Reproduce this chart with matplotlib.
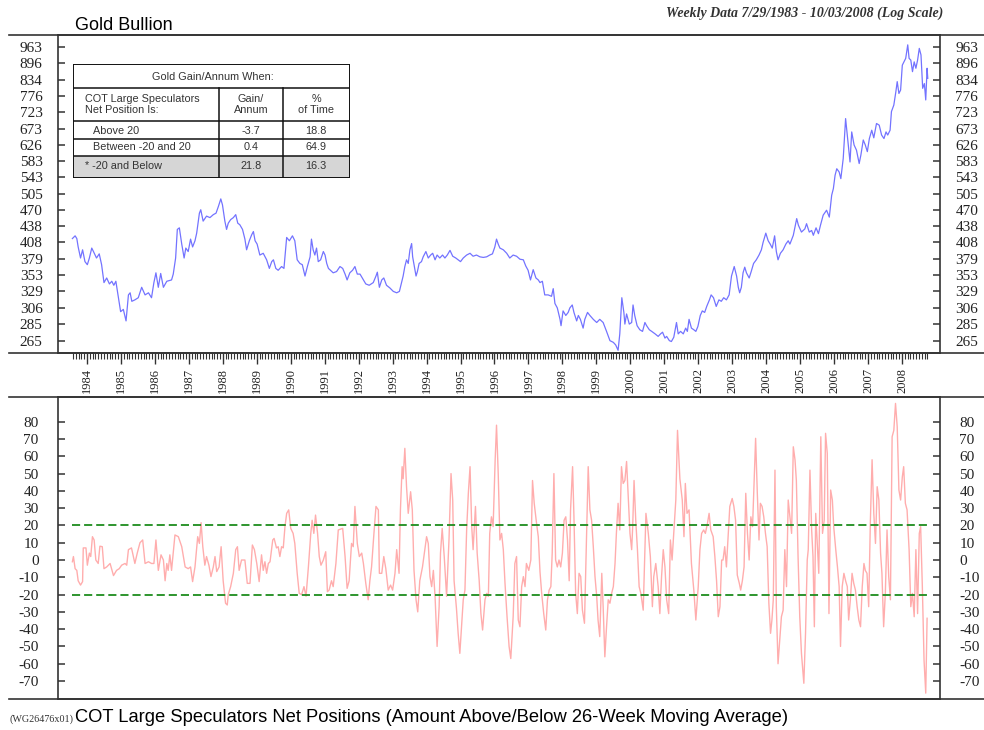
import numpy as np
import matplotlib.pyplot as plt
from matplotlib.lines import Line2D
from matplotlib.patches import Rectangle
from matplotlib.ticker import FixedLocator, NullLocator, NullFormatter

plt.rcParams['font.family'] = 'Liberation Serif'

# Gold bullion, weekly closes (decimal year, $/oz)
gold_year = [
    1983.57, 1983.65, 1983.70, 1983.74, 1983.81, 1983.87, 1983.94, 1984.01, 1984.07, 1984.14,
    1984.19, 1984.28, 1984.36, 1984.43, 1984.50, 1984.58, 1984.66, 1984.73, 1984.79, 1984.85,
    1984.92, 1984.99, 1985.07, 1985.15, 1985.22, 1985.27, 1985.32, 1985.41, 1985.51, 1985.61,
    1985.71, 1985.81, 1985.90, 1985.97, 1986.03, 1986.10, 1986.17, 1986.25, 1986.35, 1986.49,
    1986.54, 1986.61, 1986.66, 1986.72, 1986.79, 1986.86, 1986.91, 1986.98, 1987.05, 1987.11,
    1987.18, 1987.23, 1987.31, 1987.35, 1987.42, 1987.52, 1987.62, 1987.72, 1987.80, 1987.87,
    1987.94, 1987.99, 1988.06, 1988.11, 1988.16, 1988.23, 1988.31, 1988.38, 1988.44, 1988.50,
    1988.58, 1988.65, 1988.70, 1988.78, 1988.85, 1988.90, 1988.95, 1989.01, 1989.09, 1989.19,
    1989.29, 1989.37, 1989.44, 1989.49, 1989.56, 1989.63, 1989.73, 1989.80, 1989.88, 1989.96,
    1990.05, 1990.12, 1990.19, 1990.27, 1990.34, 1990.42, 1990.49, 1990.57, 1990.61, 1990.66,
    1990.71, 1990.76, 1990.81, 1990.88, 1990.96, 1991.01, 1991.06, 1991.11, 1991.17, 1991.25,
    1991.35, 1991.45, 1991.53, 1991.60, 1991.66, 1991.74, 1991.82, 1991.89, 1991.96, 1992.04,
    1992.14, 1992.21, 1992.31, 1992.43, 1992.51, 1992.55, 1992.61, 1992.68, 1992.74, 1992.82,
    1992.92, 1993.02, 1993.12, 1993.20, 1993.26, 1993.31, 1993.36, 1993.41, 1993.46, 1993.51,
    1993.56, 1993.59, 1993.63, 1993.69, 1993.73, 1993.78, 1993.85, 1993.90, 1993.98, 1994.05,
    1994.12, 1994.18, 1994.25, 1994.31, 1994.39, 1994.47, 1994.54, 1994.61, 1994.69, 1994.77,
    1994.86, 1994.93, 1995.00, 1995.08, 1995.18, 1995.28, 1995.37, 1995.47, 1995.57, 1995.67,
    1995.77, 1995.86, 1995.94, 1996.01, 1996.06, 1996.11, 1996.16, 1996.26, 1996.36, 1996.45,
    1996.55, 1996.65, 1996.75, 1996.85, 1996.92, 1996.99, 1997.06, 1997.14, 1997.22, 1997.29,
    1997.34, 1997.41, 1997.48, 1997.58, 1997.68, 1997.73, 1997.78, 1997.85, 1997.93, 1997.96,
    1998.02, 1998.10, 1998.17, 1998.22, 1998.29, 1998.34, 1998.42, 1998.47, 1998.53, 1998.61,
    1998.66, 1998.74, 1998.81, 1998.91, 1999.01, 1999.10, 1999.20, 1999.30, 1999.40, 1999.50,
    1999.57, 1999.64, 1999.69, 1999.75, 1999.81, 1999.84, 1999.89, 1999.97, 2000.04, 2000.08,
    2000.13, 2000.20, 2000.28, 2000.36, 2000.43, 2000.48, 2000.56, 2000.63, 2000.73, 2000.82,
    2000.89, 2000.95, 2001.02, 2001.07, 2001.15, 2001.21, 2001.28, 2001.36, 2001.41, 2001.48,
    2001.56, 2001.63, 2001.68, 2001.73, 2001.80, 2001.87, 2001.93, 2001.99, 2002.06, 2002.12,
    2002.19, 2002.25, 2002.33, 2002.38, 2002.45, 2002.53, 2002.61, 2002.68, 2002.75, 2002.83,
    2002.91, 2002.98, 2003.06, 2003.13, 2003.18, 2003.22, 2003.27, 2003.32, 2003.37, 2003.42,
    2003.50, 2003.56, 2003.63, 2003.71, 2003.79, 2003.86, 2003.91, 2003.99, 2004.06, 2004.12,
    2004.18, 2004.25, 2004.30, 2004.35, 2004.42, 2004.50, 2004.58, 2004.65, 2004.70, 2004.80,
    2004.90, 2004.95, 2005.04, 2005.14, 2005.19, 2005.27, 2005.34, 2005.39, 2005.47, 2005.54,
    2005.60, 2005.68, 2005.78, 2005.86, 2005.93, 2005.98, 2006.03, 2006.08, 2006.15, 2006.20,
    2006.27, 2006.34, 2006.40, 2006.47, 2006.52, 2006.59, 2006.66, 2006.74, 2006.79, 2006.86,
    2006.92, 2006.98, 2007.04, 2007.11, 2007.17, 2007.25, 2007.33, 2007.40, 2007.47, 2007.53,
    2007.58, 2007.65, 2007.69, 2007.76, 2007.82, 2007.86, 2007.91, 2007.96, 2008.01, 2008.06,
    2008.11, 2008.17, 2008.21, 2008.26, 2008.31, 2008.36, 2008.41, 2008.46, 2008.51, 2008.56,
    2008.61, 2008.66, 2008.70, 2008.74, 2008.76,
]
gold_price = [
    415, 420, 415, 400, 381, 395, 375, 370, 381, 398,
    392, 381, 388, 370, 342, 349, 340, 344, 338, 344,
    322, 301, 304, 289, 324, 327, 315, 317, 320, 335,
    324, 327, 320, 342, 357, 335, 356, 335, 344, 346,
    355, 381, 432, 435, 405, 381, 398, 392, 414, 400,
    411, 425, 464, 471, 448, 458, 455, 461, 464, 478,
    494, 481, 448, 432, 444, 451, 455, 461, 444, 441,
    432, 414, 395, 411, 422, 428, 411, 405, 386, 389,
    378, 364, 375, 378, 364, 361, 367, 364, 417, 411,
    420, 411, 378, 372, 370, 352, 367, 383, 414, 395,
    386, 398, 375, 378, 392, 386, 372, 364, 361, 357,
    359, 367, 364, 355, 346, 357, 361, 367, 355, 355,
    346, 340, 338, 342, 352, 358, 335, 346, 349, 338,
    334, 329, 327, 329, 341, 352, 367, 378, 372, 395,
    406, 383, 370, 352, 359, 372, 375, 383, 392, 381,
    386, 389, 378, 386, 381, 386, 381, 386, 394, 384,
    381, 378, 375, 381, 386, 389, 384, 386, 383, 382,
    383, 386, 388, 400, 414, 405, 398, 395, 389, 381,
    386, 384, 379, 378, 368, 361, 346, 362, 349, 346,
    342, 344, 324, 324, 322, 333, 312, 306, 291, 283,
    302, 296, 300, 306, 310, 300, 289, 296, 291, 280,
    291, 300, 296, 291, 287, 291, 287, 276, 265, 263,
    260, 254, 273, 320, 300, 285, 298, 285, 287, 310,
    296, 283, 278, 276, 287, 283, 278, 276, 273, 270,
    273, 275, 268, 270, 265, 264, 269, 287, 273, 276,
    273, 280, 276, 291, 280, 278, 276, 282, 296, 302,
    300, 308, 317, 324, 320, 308, 317, 315, 320, 317,
    324, 352, 367, 352, 335, 327, 335, 357, 366, 357,
    349, 359, 372, 378, 386, 395, 408, 425, 411, 405,
    398, 420, 392, 378, 389, 395, 405, 411, 405, 421,
    453, 440, 427, 433, 443, 427, 430, 421, 435, 424,
    440, 460, 470, 456, 502, 517, 548, 564, 556, 540,
    590, 703, 644, 581, 663, 626, 612, 577, 599, 640,
    626, 608, 644, 668, 646, 688, 683, 654, 644, 663,
    654, 668, 725, 746, 791, 827, 785, 797, 889, 902,
    916, 972, 916, 909, 864, 902, 877, 909, 957, 930,
    803, 820, 763, 877, 839,
]
gold_ticks = [265, 285, 306, 329, 353, 379, 408, 438, 470, 505,
              543, 583, 626, 673, 723, 776, 834, 896, 963]

# COT large speculators net position minus its 26-week moving average
cot_year = [
    1983.57, 1983.60, 1983.65, 1983.70, 1983.74, 1983.81, 1983.87, 1983.89, 1983.97, 1984.01,
    1984.07, 1984.11, 1984.16, 1984.21, 1984.26, 1984.33, 1984.38, 1984.45, 1984.50, 1984.58,
    1984.68, 1984.78, 1984.87, 1984.95, 1985.02, 1985.12, 1985.17, 1985.22, 1985.31, 1985.41,
    1985.48, 1985.56, 1985.64, 1985.71, 1985.81, 1985.90, 1985.97, 1986.03, 1986.10, 1986.18,
    1986.25, 1986.30, 1986.35, 1986.39, 1986.44, 1986.49, 1986.59, 1986.69, 1986.79, 1986.89,
    1986.98, 1987.05, 1987.11, 1987.18, 1987.26, 1987.31, 1987.36, 1987.41, 1987.47, 1987.52,
    1987.59, 1987.65, 1987.72, 1987.77, 1987.82, 1987.89, 1987.95, 1988.01, 1988.08, 1988.13,
    1988.16, 1988.23, 1988.31, 1988.38, 1988.43, 1988.48, 1988.55, 1988.65, 1988.72, 1988.80,
    1988.87, 1988.93, 1989.00, 1989.07, 1989.14, 1989.19, 1989.24, 1989.29, 1989.34, 1989.39,
    1989.47, 1989.51, 1989.58, 1989.63, 1989.68, 1989.73, 1989.78, 1989.83, 1989.88, 1989.94,
    1990.00, 1990.07, 1990.12, 1990.19, 1990.25, 1990.32, 1990.39, 1990.45, 1990.52, 1990.59,
    1990.63, 1990.68, 1990.73, 1990.79, 1990.84, 1990.89, 1990.96, 1991.03, 1991.08, 1991.13,
    1991.20, 1991.25, 1991.33, 1991.40, 1991.53, 1991.60, 1991.66, 1991.72, 1991.79, 1991.84,
    1991.89, 1991.96, 1992.02, 1992.09, 1992.14, 1992.21, 1992.28, 1992.33, 1992.38, 1992.45,
    1992.51, 1992.58, 1992.61, 1992.68, 1992.74, 1992.80, 1992.87, 1992.94, 1993.00, 1993.07,
    1993.12, 1993.19, 1993.23, 1993.28, 1993.31, 1993.36, 1993.41, 1993.46, 1993.53, 1993.58,
    1993.63, 1993.69, 1993.74, 1993.80, 1993.88, 1993.95, 1994.00, 1994.05, 1994.10, 1994.15,
    1994.20, 1994.25, 1994.31, 1994.37, 1994.41, 1994.46, 1994.52, 1994.59, 1994.66, 1994.72,
    1994.77, 1994.81, 1994.88, 1994.93, 1994.98, 1995.03, 1995.08, 1995.13, 1995.18, 1995.23,
    1995.28, 1995.33, 1995.37, 1995.44, 1995.49, 1995.55, 1995.60, 1995.65, 1995.72, 1995.77,
    1995.82, 1995.86, 1995.91, 1995.96, 1996.02, 1996.06, 1996.11, 1996.16, 1996.21, 1996.26,
    1996.31, 1996.37, 1996.43, 1996.48, 1996.55, 1996.60, 1996.65, 1996.70, 1996.75, 1996.80,
    1996.85, 1996.90, 1996.94, 1997.01, 1997.07, 1997.12, 1997.17, 1997.24, 1997.29, 1997.34,
    1997.39, 1997.45, 1997.51, 1997.56, 1997.61, 1997.66, 1997.70, 1997.75, 1997.80, 1997.85,
    1997.90, 1997.95, 1998.00, 1998.05, 1998.10, 1998.15, 1998.20, 1998.24, 1998.30, 1998.34,
    1998.39, 1998.44, 1998.49, 1998.54, 1998.59, 1998.65, 1998.71, 1998.76, 1998.81, 1998.86,
    1998.91, 1998.96, 1999.01, 1999.05, 1999.10, 1999.16, 1999.20, 1999.25, 1999.30, 1999.35,
    1999.40, 1999.45, 1999.50, 1999.55, 1999.59, 1999.64, 1999.69, 1999.74, 1999.79, 1999.84,
    1999.89, 1999.94, 1999.99, 2000.04, 2000.07, 2000.11, 2000.16, 2000.21, 2000.26, 2000.31,
    2000.38, 2000.46, 2000.53, 2000.59, 2000.65, 2000.69, 2000.75, 2000.82, 2000.87, 2000.92,
    2000.97, 2001.02, 2001.07, 2001.13, 2001.18, 2001.23, 2001.29, 2001.34, 2001.39, 2001.46,
    2001.53, 2001.58, 2001.62, 2001.67, 2001.73, 2001.80, 2001.87, 2001.93, 2002.00, 2002.05,
    2002.10, 2002.16, 2002.21, 2002.27, 2002.32, 2002.37, 2002.44, 2002.49, 2002.54, 2002.59,
    2002.64, 2002.69, 2002.73, 2002.78, 2002.83, 2002.88, 2002.93, 2003.00, 2003.05, 2003.10,
    2003.15, 2003.21, 2003.25, 2003.30, 2003.35, 2003.40, 2003.45, 2003.50, 2003.55, 2003.60,
    2003.65, 2003.69, 2003.74, 2003.79, 2003.83, 2003.88, 2003.93, 2003.98, 2004.03, 2004.08,
    2004.13, 2004.17, 2004.21, 2004.26, 2004.30, 2004.35, 2004.40, 2004.45, 2004.50, 2004.55,
    2004.60, 2004.65, 2004.70, 2004.75, 2004.80, 2004.85, 2004.89, 2004.94, 2004.99, 2005.04,
    2005.11, 2005.16, 2005.21, 2005.24, 2005.29, 2005.34, 2005.38, 2005.42, 2005.46, 2005.51,
    2005.55, 2005.61, 2005.66, 2005.71, 2005.75, 2005.80, 2005.85, 2005.90, 2005.95, 2005.99,
    2006.05, 2006.10, 2006.15, 2006.19, 2006.24, 2006.29, 2006.34, 2006.39, 2006.43, 2006.48,
    2006.53, 2006.58, 2006.63, 2006.68, 2006.73, 2006.78, 2006.83, 2006.88, 2006.92, 2006.97,
    2007.02, 2007.07, 2007.12, 2007.17, 2007.22, 2007.27, 2007.32, 2007.37, 2007.41, 2007.46,
    2007.51, 2007.56, 2007.61, 2007.66, 2007.71, 2007.76, 2007.81, 2007.86, 2007.91, 2007.96,
    2008.01, 2008.05, 2008.10, 2008.15, 2008.21, 2008.26, 2008.31, 2008.36, 2008.41, 2008.46,
    2008.51, 2008.55, 2008.60, 2008.65, 2008.70, 2008.74,
]
cot_value = [
    -1, 2, -5, -6, -12, -14.5, -12.5, 7, 7, -3,
    4, 2, 13.5, 11.6, 0, -2, 8, 7.7, -5, -4,
    -2, -9, -6, -5, -3, -2, -3, 6, 7, -2,
    4, 10, 11.6, -2, -1, -2, -2, 11.6, -6, 3,
    0, -12, -2, -6, 3, -6, 14.5, 13.5, 7.7, -4,
    -5, -4, -12.5, -4, 13.5, 9.6, 21.6, 7.7, -3, 2,
    -3, -9.6, -4, 2, -6.7, -4, 7.7, -12, -25, -26,
    -20, -15.4, -7.7, 6, 7.7, -6, 0, 0, -13.5, -13.5,
    8.7, 6, -2, -12.5, 3, -6, -1, -7.7, -2, -1,
    11.6, 12.5, 7, 7.7, 2, 7.7, 7, 19.3, 27, 29,
    18.3, 15.4, 9.6, -7.7, -19.3, -20, -15.4, -21, -4, 15.4,
    23, 15.4, 26, 15.4, 2, -3, 0, 4.8, -18.3, -17.4,
    -12, -15.4, -2, 17.4, 18.3, 2, -16.4, -12, 9.6, 7.7,
    31, 9.6, 2, 4, -2, -13.5, -23, -12, -4, 15.4,
    31, 29, -7.7, -7.7, 2, -5, -17.4, -14.5, -17.4, -7.7,
    6, -7.7, 29, 54, 47, 64.6, 42.4, 27, 39.5, 29,
    -6, -23, -30, -12, -4, 6, 13.5, 9.6, -9.6, -15.4,
    -6, -21, -50, -27, 4, 18.3, 2, -21, 11.6, 50,
    34.7, -12, -28, -42.4, -54, -38.6, -23, -17.4, 17.4, 38.6,
    54, 19.3, 6, 31, 4, -12, -31, -40.5, -23, -19.3,
    -21, 15.4, 25, 19.3, 58, 78, 50, 11.6, 15.4, 6,
    -13.5, -32.8, -50, -57, -32.8, -2, 2, -34.7, -38.6, -15.4,
    -9.6, -15.4, -2, -6, 0, 46, 32.8, 21, 13.5, -6.7,
    -19.3, -31, -40.5, -23, -17.4, -15.4, 4, 50, 0, -4,
    0, -4, 4, 23, 25, 11.6, -12, 29, 54, 25,
    -19.3, -31, -7.7, -9.6, -29, -36.6, 13.5, 54, 29, 23,
    7.7, -9.6, -21, -34.7, -44.3, -7.7, -27, -56, -38.6, -23,
    -25, -19.3, -15.4, -2, 15.4, 32.8, 17.4, 54, 44.3, 46,
    57, 36.6, 15.4, 6, 19.3, 46, 23, 6, -15.4, -19.3,
    -29, 27, 15.4, 2, -27, -9.6, -2, -15.4, -31, -9.6,
    6, -4, -23, -31, 11.6, 0, 19.3, 34.7, 75, 47,
    34.7, 13.5, 44.3, 27, 29, -2, -17.4, -34.7, -15.4, 6,
    15.4, 17.4, 15.4, 21, 27, 17.4, 13.5, 2, -12, -32.8,
    -27, 0, 0, 7.7, -4, 13.5, 31, 35.6, 31, 23,
    -8.7, -13.5, -17.4, -12, -4, 38.6, 15.4, 0, 25, 19.3,
    48, 70.4, 38.6, 11.6, 32.8, 31, 25, 15.4, 7.7, -25,
    -42.4, -34.7, -23, 52, -27, -60, -46, -32.8, -29, 6,
    -15.4, 34.7, 25, 15.4, 65.5, 58, 46, 2, -32.8, -54,
    -71.3, -42.4, 0, 6, 52, 17.4, 2, -38.6, 27, 7.7,
    -7.7, 71.3, 15.4, 23, 73.3, 61.7, -31, 40.5, 34.7, 19.3,
    6, -4, -15.4, -50, -15.4, -7.7, -12, -15.4, -34.7, -23,
    -7.7, -13.5, -17.4, -27, -34.7, -38.6, -15.4, -2, -6, -7.7,
    -27, 23, 58, 27, 9.6, 42.4, 34.7, 4, -7.7, -38.6,
    -19.3, 17.4, -9.6, -23, 71.3, 75, 90.6, 77, 40.5, 34.7,
    48, 54, 32.8, 29, 6, -27, -19.3, -32.8, 6, -31,
    15.4, 19.3, -15.4, -58, -77, -33.7,
]
cot_ticks = [-70, -60, -50, -40, -30, -20, -10, 0, 10, 20, 30, 40, 50, 60, 70, 80]
cot_bands = [20, -20]

# Table figures
table_rows = ['Above 20', 'Between -20 and 20', '* -20 and Below']
gain_per_annum = ['-3.7', '0.4', '21.8']
pct_of_time = ['18.8', '64.9', '16.3']

year_ticks = list(range(1984, 2009))

W, H = 984.0, 730.0


def fig_box(x0, y0, x1, y1):
    # pixel box (top-left origin) -> figure fraction rect
    return [x0 / W, 1 - y1 / H, (x1 - x0) / W, (y1 - y0) / H]


fig = plt.figure(figsize=(W / 100, H / 100), dpi=100)
frame_col = '#333333'
xlim = (1983.146, 2009.12)

# --- Top panel: gold, log scale
ax1 = fig.add_axes(fig_box(58, 35, 940, 353))
ax1.plot(gold_year, gold_price, color='#0000ff', alpha=0.55, lw=0.9)
ax1.set_yscale('log')
ax1.set_ylim(251, 1015)
ax1.set_xlim(*xlim)
ax1.yaxis.set_major_locator(FixedLocator(gold_ticks))
ax1.yaxis.set_minor_locator(NullLocator())
ax1.yaxis.set_minor_formatter(NullFormatter())
ax1.set_yticklabels([str(t) for t in gold_ticks])
ax1.tick_params(axis='y', which='major', direction='in', length=5, width=1.1,
                left=True, right=True, labelleft=True, labelright=True,
                labelsize=11, pad=11, colors=frame_col, labelcolor='#222222')

month_ticks = np.arange(1983 + 7 / 12, gold_year[-1], 1 / 12)
ax1.set_xticks(year_ticks)
ax1.set_xticklabels([str(y) for y in year_ticks], rotation=90, fontsize=9)
ax1.set_xticks(month_ticks, minor=True)
ax1.tick_params(axis='x', which='major', direction='out', length=8, width=1.0,
                pad=3, colors=frame_col, labelcolor='#222222')
ax1.tick_params(axis='x', which='minor', direction='out', length=4, width=0.8,
                colors=frame_col)

# --- Bottom panel: COT oscillator
ax2 = fig.add_axes(fig_box(58, 397, 940, 699))
ax2.plot(cot_year, cot_value, color='#ff0000', alpha=0.32, lw=1.0)
ax2.hlines(cot_bands, cot_year[0], cot_year[-1], colors='#1e8c1e',
           linestyles=(0, (4.5, 2.2)), lw=1.3)
ax2.set_xlim(*xlim)
ax2.set_ylim(-80.4, 94.3)
ax2.set_yticks(cot_ticks)
ax2.set_yticklabels([str(t) for t in cot_ticks])
ax2.set_xticks([])
ax2.tick_params(axis='y', direction='in', length=5, width=1.1,
                left=True, right=True, labelleft=True, labelright=True,
                labelsize=11, pad=14, colors=frame_col, labelcolor='#222222')

for ax in (ax1, ax2):
    for sp in ax.spines.values():
        sp.set_color(frame_col)
        sp.set_linewidth(1.2)

# long horizontal rules across the page
for y in (35, 353, 397, 699):
    fig.add_artist(Line2D([9 / W, 1.0], [1 - y / H, 1 - y / H], color=frame_col, lw=1.2))

# titles
fig.text(75 / W, 1 - 25 / H, 'Gold Bullion', family='Liberation Sans', size=13, va='center')
fig.text(943 / W, 1 - 13 / H, 'Weekly Data 7/29/1983 - 10/03/2008 (Log Scale)',
         style='italic', weight='bold', size=10, ha='right', va='center', color='#333333')
fig.text(9 / W, 1 - 719 / H, '(WG26476x01)', size=7.3, va='center', color='#333333')
fig.text(75 / W, 1 - 718 / H,
         'COT Large Speculators Net Positions (Amount Above/Below 26-Week Moving Average)',
         family='Liberation Sans', size=13.2, va='center')

# --- Gain/annum table
tab = fig.add_axes(fig_box(73, 64, 350, 178))
tab.set_xlim(73, 350)
tab.set_ylim(178, 64)
tab.axis('off')
tab.add_patch(Rectangle((73, 156), 277, 22, facecolor='#d6d6d6', edgecolor='none'))
tab.add_patch(Rectangle((73, 64), 277, 114, facecolor='none', edgecolor='#111111', lw=1.4))
for yy in (88, 121, 139, 156):
    tab.plot([73, 350], [yy, yy], color='#111111', lw=1.1)
for xx in (219, 283):
    tab.plot([xx, xx], [88, 178], color='#111111', lw=1.1)

tfont = dict(family='Liberation Sans', size=7.8, color='#333333', va='center')
tab.text(213, 77, 'Gold Gain/Annum When:', ha='center', **tfont)
tab.text(85, 104.5, 'COT Large Speculators\nNet Position Is:', ha='left', linespacing=1.1, **tfont)
tab.text(251, 104.5, 'Gain/\nAnnum', ha='center', linespacing=1.1, **tfont)
tab.text(316, 104.5, '%\nof Time', ha='center', linespacing=1.1, **tfont)
row_y = [130.5, 147.5, 166]
for i, name in enumerate(table_rows):
    tab.text(93 if i < 2 else 85, row_y[i], name, ha='left', **tfont)
    tab.text(251, row_y[i], gain_per_annum[i], ha='center', **tfont)
    tab.text(316, row_y[i], pct_of_time[i], ha='center', **tfont)

fig.savefig('out.png', dpi=100)
